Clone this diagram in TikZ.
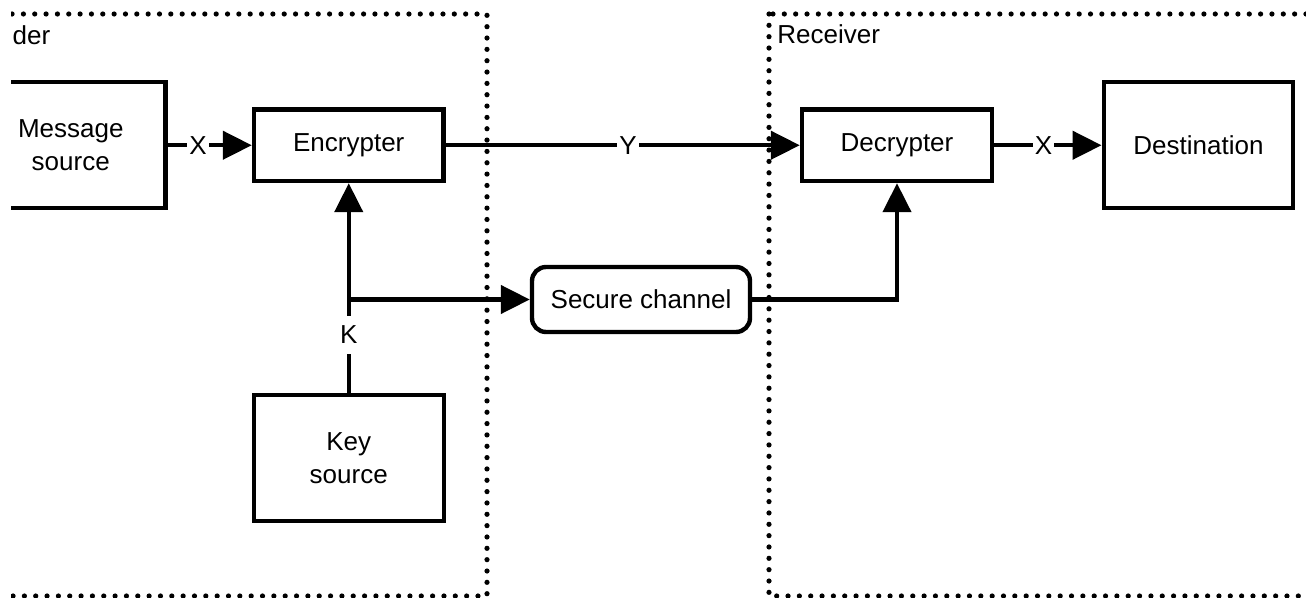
\documentclass[tikz,border=0pt]{standalone}
\usepackage{fontspec}
\setmainfont{Liberation Sans}
\usetikzlibrary{arrows.meta}
\begin{document}
\begin{tikzpicture}[x=0.5pt,y=-0.5pt,
  every node/.style={font=\fontsize{13}{16.5}\selectfont},
  box/.style={draw, line width=2.2pt, align=center, inner sep=0pt},
  rbox/.style={box, rounded corners=7pt},
  arr/.style={line width=2.2pt, -{Triangle[length=14.5pt,width=14pt]}},
  lbl/.style={fill=white, inner xsep=1pt, inner ysep=2pt},
  dots/.style={line width=2.6pt, line cap=round, dash pattern=on 0pt off 5.67pt}]
\useasboundingbox (0,0) rectangle (1306,598);
\clip (11,0) rectangle (1306,598);
% groups
\draw[dots] (-40,14) rectangle (487,596);
\draw[dots] (769,14) rectangle (1340,596);
\node[anchor=base west, inner sep=0pt] (sendlbl) at (-34,45) {Sender};
\node[anchor=base west, inner sep=0pt] (recvlbl) at (777,44) {Receiver};
% boxes
\node[box, minimum width=94.75pt, minimum height=63pt] (msg) at (70.75,145) {Message\\source};
\node[box, minimum width=94.75pt, minimum height=35.75pt] (enc) at (348.75,145.25) {Encrypter};
\node[box, minimum width=95pt, minimum height=35.75pt] (dec) at (897,145.25) {Decrypter};
\node[box, minimum width=94.75pt, minimum height=63pt] (dst) at (1198.5,145) {Destination};
\node[box, minimum width=95pt, minimum height=63pt] (key) at (348.75,458) {Key\\source};
\node[rbox, minimum width=109pt, minimum height=32.5pt] (sc) at (641,299.5) {Secure channel};
% connectors
\draw[arr] (msg.east |- enc.west) -- node[lbl, pos=0.36] (xa) {X} (enc.west);
\draw[arr] (enc.east) -- node[lbl, pos=0.515] (ya) {Y} (dec.west);
\draw[arr] (dec.east) -- node[lbl, pos=0.46] (xb) {X} (dst.west |- dec.west);
\draw[arr] (key.north) -- node[lbl, pos=0.276, inner ysep=5pt] (ka) {K} (enc.south);
\coordinate (kj) at (348.75,299.5);
\draw[arr] (kj) -- (sc.west);
\draw[arr] (sc.east) -| (dec.south);
\end{tikzpicture}
\end{document}
